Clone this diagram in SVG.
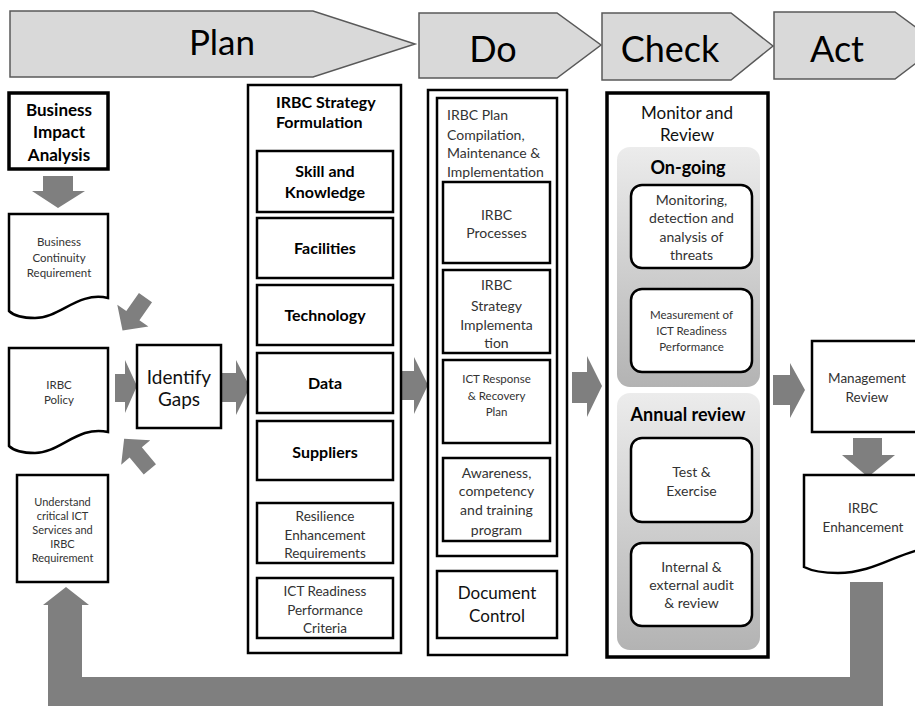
<svg xmlns="http://www.w3.org/2000/svg" width="915" height="706" viewBox="0 0 915 706">
  <defs>
    <style>
      .phase { fill: #d9d9d9; stroke: #595959; stroke-width: 1.5; }
      .phase-t { font-family: Lato, "Liberation Sans", sans-serif; fill: #000; text-anchor: middle; }
      .box { fill: #fff; stroke: #000; stroke-width: 2.5; }
      .thick { fill: #fff; stroke: #000; stroke-width: 3.5; }
      .rbox { fill: #fff; stroke: #000; stroke-width: 2.5; }
      .flow { fill: #7f7f7f; }
      .t { font-family: Lato, "Liberation Sans", sans-serif; fill: #333; text-anchor: middle; }
      .m { font-family: Lato, "Liberation Sans", sans-serif; fill: #111; text-anchor: middle; }
      .b { font-family: Lato, "Liberation Sans", sans-serif; fill: #000; font-weight: bold; text-anchor: middle; }
      .l { text-anchor: start; }
    </style>
    <linearGradient id="panel" x1="0" y1="0" x2="0" y2="1">
      <stop offset="0" stop-color="#ececec"/>
      <stop offset="1" stop-color="#b3b3b3"/>
    </linearGradient>
  </defs>

  <!-- PDCA phase banner -->
  <g id="phase-plan">
    <path class="phase" d="M10,11 H313 L415,44 L313,77 H10 Z"/>
    <text class="phase-t" x="222" y="55" font-size="35">Plan</text>
  </g>
  <g id="phase-do">
    <path class="phase" d="M419,13 H557 L601,45 L557,78 H419 Z"/>
    <text class="phase-t" x="493" y="62" font-size="36">Do</text>
  </g>
  <g id="phase-check">
    <path class="phase" d="M602,13 H731 L773,46 L731,80 H602 Z"/>
    <text class="phase-t" x="670" y="62" font-size="36">Check</text>
  </g>
  <g id="phase-act">
    <path class="phase" d="M774,12 H895 L940,45 L895,79 H774 Z"/>
    <text class="phase-t" x="837" y="62" font-size="36">Act</text>
  </g>

  <!-- connectors -->
  <g id="connectors">
    <!-- BIA down to continuity requirement -->
    <path class="flow" d="M43,176 H73 V191 H85 L58,208 L32,191 H43 Z"/>
    <!-- converging arrows towards Identify Gaps -->
    <path class="flow" transform="translate(134,314) rotate(125)" d="M-20,-8 H2 V-19 L20,0 L2,19 V8 H-20 Z"/>
    <path class="flow" d="M115,374 H125 V360 L137,386 L125,413 V402 H115 Z"/>
    <path class="flow" transform="translate(137,454) rotate(-130)" d="M-20,-8 H2 V-19 L20,0 L2,19 V8 H-20 Z"/>
    <!-- Identify Gaps to strategy formulation -->
    <path class="flow" d="M221,373 H236 V360 L250,387 L236,415 V402 H221 Z"/>
    <!-- strategy to plan compilation -->
    <path class="flow" d="M401,371 H414 V357 L428,385 L414,414 V400 H401 Z"/>
    <!-- do to check -->
    <path class="flow" d="M572,372 H587 V356 L602,386 L587,417 V403 H572 Z"/>
    <!-- check to management review -->
    <path class="flow" d="M773,375 H790 V363 L805,390 L790,418 V405 H773 Z"/>
    <!-- management review down to enhancement -->
    <path class="flow" d="M853,438 H882 V455 H895 L868,477 L842,455 H853 Z"/>
    <!-- feedback loop back to the start -->
    <path class="flow" d="M850,582 H883 V706 H48 V605 H43 L66,587 L89,605 H82 V677 H850 Z"/>
  </g>

  <!-- Plan: inputs -->
  <g id="business-impact-analysis">
    <rect class="thick" x="9" y="93" width="99" height="76"/>
    <text class="b" x="59" y="116" font-size="17">Business</text>
    <text class="b" x="59" y="138" font-size="17">Impact</text>
    <text class="b" x="59" y="161" font-size="17">Analysis</text>
  </g>
  <g id="business-continuity-requirement">
    <path class="box" d="M9,214 H108 V298 C78,291 60,318 35,318 C20,318 13,315 9,311 Z"/>
    <text class="t" x="59" y="246" font-size="11.5">Business</text>
    <text class="t" x="59" y="262" font-size="11.5">Continuity</text>
    <text class="t" x="59" y="277" font-size="11.5">Requirement</text>
  </g>
  <g id="irbc-policy">
    <path class="box" d="M9,348 H108 V432 C78,425 60,453 35,453 C20,453 13,450 9,446 Z"/>
    <text class="t" x="59" y="389" font-size="11.5">IRBC</text>
    <text class="t" x="59" y="404" font-size="11.5">Policy</text>
  </g>
  <g id="understand-critical-ict">
    <rect class="box" x="17" y="475" width="91" height="107"/>
    <text class="t" x="62.5" y="506" font-size="11">Understand</text>
    <text class="t" x="62.5" y="520" font-size="11">critical ICT</text>
    <text class="t" x="62.5" y="534" font-size="11">Services and</text>
    <text class="t" x="62.5" y="548" font-size="11">IRBC</text>
    <text class="t" x="62.5" y="562" font-size="11">Requirement</text>
  </g>
  <g id="identify-gaps">
    <rect class="box" x="137" y="345" width="84" height="83"/>
    <text class="m" x="179" y="384" font-size="19">Identify</text>
    <text class="m" x="179" y="406" font-size="19">Gaps</text>
  </g>

  <!-- Plan: strategy formulation -->
  <g id="strategy-formulation">
    <rect class="box" x="248" y="85" width="153" height="568"/>
    <text class="b l" x="276" y="108" font-size="16">IRBC Strategy</text>
    <text class="b l" x="276" y="128" font-size="16">Formulation</text>
  </g>
  <g id="skill-knowledge">
    <rect class="box" x="257" y="151" width="136" height="61"/>
    <text class="b" x="325" y="177" font-size="16">Skill and</text>
    <text class="b" x="325" y="198" font-size="16">Knowledge</text>
  </g>
  <g id="facilities">
    <rect class="box" x="257" y="218" width="136" height="60"/>
    <text class="b" x="325" y="254" font-size="16">Facilities</text>
  </g>
  <g id="technology">
    <rect class="box" x="257" y="285" width="136" height="60"/>
    <text class="b" x="325" y="321" font-size="16">Technology</text>
  </g>
  <g id="data">
    <rect class="box" x="257" y="353" width="136" height="60"/>
    <text class="b" x="325" y="389" font-size="16">Data</text>
  </g>
  <g id="suppliers">
    <rect class="box" x="257" y="421" width="136" height="59"/>
    <text class="b" x="325" y="458" font-size="16">Suppliers</text>
  </g>
  <g id="resilience-requirements">
    <rect class="box" x="257" y="503" width="136" height="60"/>
    <text class="t" x="325" y="521" font-size="13.5">Resilience</text>
    <text class="t" x="325" y="540" font-size="13.5">Enhancement</text>
    <text class="t" x="325" y="558" font-size="13.5">Requirements</text>
  </g>
  <g id="readiness-criteria">
    <rect class="box" x="257" y="578" width="136" height="60"/>
    <text class="t" x="325" y="596" font-size="13.5">ICT Readiness</text>
    <text class="t" x="325" y="615" font-size="13.5">Performance</text>
    <text class="t" x="325" y="633" font-size="13.5">Criteria</text>
  </g>

  <!-- Do -->
  <g id="do-frame">
    <rect class="box" x="428" y="90" width="139" height="565"/>
  </g>
  <g id="plan-compilation">
    <rect class="box" x="437" y="98" width="120" height="458"/>
    <text class="t l" x="447" y="120" font-size="14">IRBC Plan</text>
    <text class="t l" x="447" y="140" font-size="14">Compilation,</text>
    <text class="t l" x="447" y="158" font-size="14">Maintenance &amp;</text>
    <text class="t l" x="447" y="177" font-size="14">Implementation</text>
  </g>
  <g id="irbc-processes">
    <rect class="box" x="443" y="182" width="107" height="81"/>
    <text class="t" x="496.5" y="220" font-size="14">IRBC</text>
    <text class="t" x="496.5" y="238" font-size="14">Processes</text>
  </g>
  <g id="strategy-implementation">
    <rect class="box" x="443" y="270" width="107" height="83"/>
    <text class="t" x="496.5" y="290" font-size="14">IRBC</text>
    <text class="t" x="496.5" y="311" font-size="14">Strategy</text>
    <text class="t" x="496.5" y="330" font-size="14">Implementa</text>
    <text class="t" x="496.5" y="348" font-size="14">tion</text>
  </g>
  <g id="response-recovery-plan">
    <rect class="box" x="443" y="360" width="107" height="83"/>
    <text class="t" x="496.5" y="383" font-size="11.5">ICT Response</text>
    <text class="t" x="496.5" y="400" font-size="11.5">&amp; Recovery</text>
    <text class="t" x="496.5" y="416" font-size="11.5">Plan</text>
  </g>
  <g id="awareness-training">
    <rect class="box" x="443" y="458" width="107" height="83"/>
    <text class="t" x="496.5" y="478" font-size="14">Awareness,</text>
    <text class="t" x="496.5" y="496" font-size="14">competency</text>
    <text class="t" x="496.5" y="515" font-size="14">and training</text>
    <text class="t" x="496.5" y="535" font-size="14">program</text>
  </g>
  <g id="document-control">
    <rect class="box" x="437" y="571" width="120" height="67"/>
    <text class="m" x="497" y="599" font-size="17">Document</text>
    <text class="m" x="497" y="622" font-size="17">Control</text>
  </g>

  <!-- Check -->
  <g id="monitor-review">
    <rect class="thick" x="607" y="93" width="161" height="564"/>
    <text class="m" x="687" y="119" font-size="17">Monitor and</text>
    <text class="m" x="687" y="141" font-size="17">Review</text>
  </g>
  <g id="on-going">
    <rect x="617" y="147" width="143" height="240" rx="13" fill="url(#panel)"/>
    <text class="b" x="688" y="174" font-size="18">On-going</text>
  </g>
  <g id="threat-monitoring">
    <rect class="rbox" x="631" y="185" width="121" height="83" rx="11"/>
    <text class="t" x="691.5" y="205" font-size="14">Monitoring,</text>
    <text class="t" x="691.5" y="223" font-size="14">detection and</text>
    <text class="t" x="691.5" y="242" font-size="14">analysis of</text>
    <text class="t" x="691.5" y="260" font-size="14">threats</text>
  </g>
  <g id="readiness-measurement">
    <rect class="rbox" x="631" y="289" width="121" height="83" rx="11"/>
    <text class="t" x="691.5" y="319" font-size="11.5">Measurement of</text>
    <text class="t" x="691.5" y="335" font-size="11.5">ICT Readiness</text>
    <text class="t" x="691.5" y="351" font-size="11.5">Performance</text>
  </g>
  <g id="annual-review">
    <rect x="617" y="393" width="143" height="257" rx="13" fill="url(#panel)"/>
    <text class="b" x="688" y="421" font-size="18">Annual review</text>
  </g>
  <g id="test-exercise">
    <rect class="rbox" x="631" y="438" width="121" height="84" rx="11"/>
    <text class="t" x="691.5" y="477" font-size="14">Test &amp;</text>
    <text class="t" x="691.5" y="496" font-size="14">Exercise</text>
  </g>
  <g id="audit-review">
    <rect class="rbox" x="631" y="543" width="121" height="83" rx="11"/>
    <text class="t" x="691.5" y="572" font-size="14">Internal &amp;</text>
    <text class="t" x="691.5" y="590" font-size="14">external audit</text>
    <text class="t" x="691.5" y="608" font-size="14">&amp; review</text>
  </g>

  <!-- Act -->
  <g id="management-review">
    <rect class="box" x="812" y="341" width="130" height="91"/>
    <text class="t" x="867" y="383" font-size="13.5">Management</text>
    <text class="t" x="867" y="402" font-size="13.5">Review</text>
  </g>
  <g id="irbc-enhancement">
    <path class="box" d="M804,475 H942 V548 C905,545 880,573 838,573 C820,573 810,570 804,567 Z"/>
    <text class="t" x="863" y="513" font-size="13.5">IRBC</text>
    <text class="t" x="863" y="532" font-size="13.5">Enhancement</text>
  </g>
</svg>
